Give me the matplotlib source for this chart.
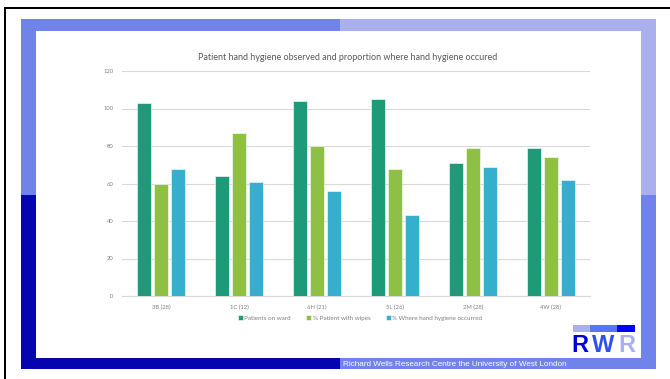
import matplotlib.pyplot as plt
from matplotlib.patches import Rectangle
import numpy as np

wards = ["3B (28)", "1C (12)", "6H (21)", "5L (26)", "2M (28)", "4W (28)"]
patients_on_ward = [103, 64, 104, 105, 71, 79]
pct_with_wipes = [60, 87, 80, 68, 79, 74]
pct_hygiene = [68, 61, 56, 43, 69, 62]
series_names = ["Patients on ward", "% Patient with wipes", "% Where hand hygiene occurred"]
series_colors = ["#1E9A78", "#8DC045", "#36AECD"]

W, H = 670, 379


def px_rect(fig, x0, y0, x1, y1, color, z=0):
	# rectangle given in pixel coords, top-left origin
	r = Rectangle((x0 / W, 1 - y1 / H), (x1 - x0) / W, (y1 - y0) / H,
		transform=fig.transFigure, facecolor=color, edgecolor="none", zorder=z)
	fig.patches.append(r)


fig = plt.figure(figsize=(6.7, 3.79), dpi=100)

# background frame pieces
px_rect(fig, 21, 19, 340, 195, "#7083EA")
px_rect(fig, 340, 19, 656, 195, "#AAB0EE")
px_rect(fig, 21, 195, 340, 369, "#0505B0")
px_rect(fig, 340, 195, 656, 369, "#7083EA")
px_rect(fig, 36, 31, 641, 358, "white", z=1)
px_rect(fig, 4, 7, 670, 9, "black", z=1)
px_rect(fig, 4, 7, 6, 379, "black", z=1)

fig.text(343 / W, 1 - 364 / H, "Richard Wells Research Centre the University of West London",
	color="white", fontsize=5.9, family="Liberation Sans", va="center", ha="left")

# logo
px_rect(fig, 573, 325, 590, 332, "#AAB0EE", z=2)
px_rect(fig, 590, 325, 617, 332, "#5577F5", z=2)
px_rect(fig, 617, 325, 635, 332, "#0000FF", z=2)
for letter, lx, lc in [("R", 580, "#0000DD"), ("W", 603.5, "#2F4FF0"), ("R", 627, "#AAB0EE")]:
	fig.text(lx / W, 1 - 345.5 / H, letter, color=lc, fontsize=17, fontweight="bold",
		family="Liberation Sans", ha="center", va="center", zorder=3)

ax = fig.add_axes([122 / W, 1 - 296 / H, 468 / W, 225 / H])
ax.set_zorder(2)
ax.patch.set_alpha(0)

x = np.arange(len(wards))
offsets = [-0.218, 0, 0.218]
all_series = [patients_on_ward, pct_with_wipes, pct_hygiene]
handles = []
for vals, off, col, name in zip(all_series, offsets, series_colors, series_names):
	b = ax.bar(x + off, vals, width=0.18, color=col, edgecolor="white", linewidth=0.4, label=name, zorder=3)
	handles.append(b)

ax.set_xlim(-0.5, len(wards) - 0.5)
ax.set_ylim(0, 120)
ax.set_yticks(range(0, 121, 20))
ax.set_xticks(x)
ax.set_xticklabels(wards)
ax.grid(axis="y", color="#D9D9D9", linewidth=0.8, zorder=0)
for s in ["top", "right", "left"]:
	ax.spines[s].set_visible(False)
ax.spines["bottom"].set_color("#D9D9D9")
ax.spines["bottom"].set_linewidth(0.8)
ax.tick_params(length=0, labelsize=4.2, labelcolor="#7F7F7F", pad=6)
for lab in ax.get_xticklabels() + ax.get_yticklabels():
	lab.set_family("Lato")

fig.text(348 / W, 1 - 57 / H, "Patient hand hygiene observed and proportion where hand hygiene occured",
	fontsize=6.5, color="#595959", family="Lato", ha="center", va="center", zorder=3)

leg = fig.legend(handles=handles, labels=series_names, loc="center", bbox_to_anchor=(360 / W, 1 - 318 / H),
	ncol=3, frameon=False, prop={"family": "Lato", "size": 4.5}, handlelength=0.8, handleheight=0.8,
	handletextpad=0.3, columnspacing=2.4)
for t in leg.get_texts():
	t.set_color("#7F7F7F")
leg.set_zorder(3)

plt.savefig("out.png", dpi=100)
